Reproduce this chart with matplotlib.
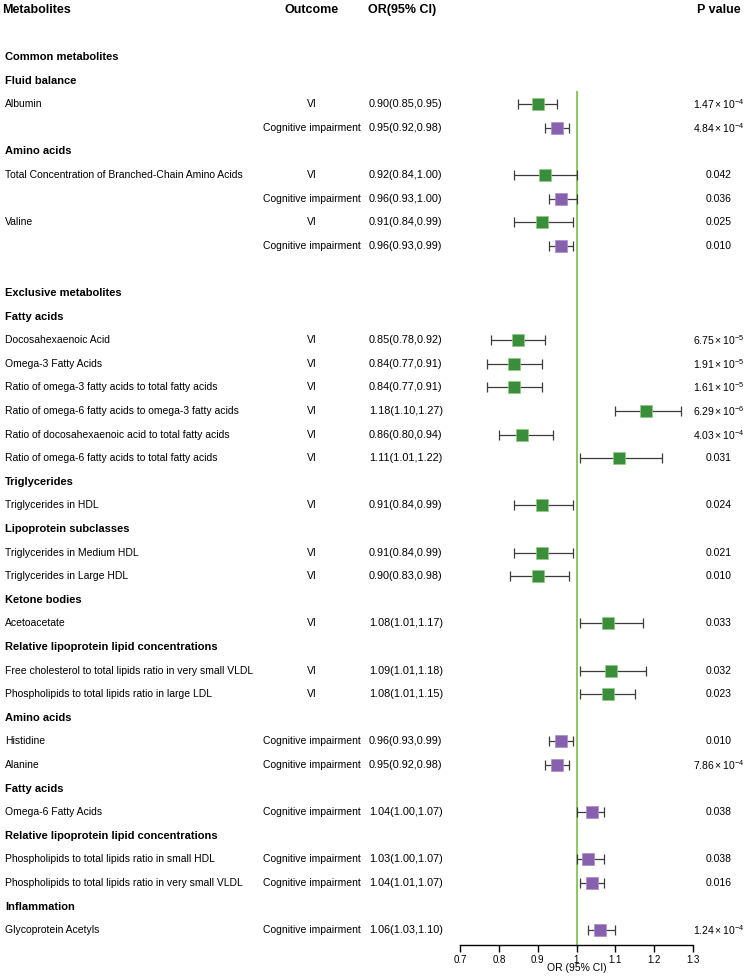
import matplotlib.pyplot as plt
import matplotlib.transforms as mtransforms

plt.rcParams['font.family'] = ['Liberation Sans', 'DejaVu Sans']
plt.rcParams['mathtext.fontset'] = 'custom'
plt.rcParams['mathtext.rm'] = 'Liberation Sans'
plt.rcParams['mathtext.it'] = 'Liberation Sans'

# row labels, '' = empty row
labels = ['Common metabolites', 'Fluid balance', 'Albumin', '', 'Amino acids',
          'Total Concentration of Branched-Chain Amino Acids', '', 'Valine', '', '',
          'Exclusive metabolites', 'Fatty acids', 'Docosahexaenoic Acid', 'Omega-3 Fatty Acids',
          'Ratio of omega-3 fatty acids to total fatty acids',
          'Ratio of omega-6 fatty acids to omega-3 fatty acids',
          'Ratio of docosahexaenoic acid to total fatty acids',
          'Ratio of omega-6 fatty acids to total fatty acids',
          'Triglycerides', 'Triglycerides in HDL', 'Lipoprotein subclasses',
          'Triglycerides in Medium HDL', 'Triglycerides in Large HDL', 'Ketone bodies',
          'Acetoacetate', 'Relative lipoprotein lipid concentrations',
          'Free cholesterol to total lipids ratio in very small VLDL',
          'Phospholipids to total lipids ratio in large LDL', 'Amino acids', 'Histidine', 'Alanine',
          'Fatty acids', 'Omega-6 Fatty Acids', 'Relative lipoprotein lipid concentrations',
          'Phospholipids to total lipids ratio in small HDL',
          'Phospholipids to total lipids ratio in very small VLDL', 'Inflammation',
          'Glycoprotein Acetyls']
header_rows = [0, 1, 4, 10, 11, 18, 20, 23, 25, 28, 31, 33, 36]

data_rows = [2, 3, 5, 6, 7, 8, 12, 13, 14, 15, 16, 17, 19, 21, 22, 24, 26, 27, 29, 30, 32, 34, 35, 37]
outcome = ['VI', 'Cognitive impairment', 'VI', 'Cognitive impairment', 'VI', 'Cognitive impairment',
           'VI', 'VI', 'VI', 'VI', 'VI', 'VI', 'VI', 'VI', 'VI', 'VI', 'VI', 'VI',
           'Cognitive impairment', 'Cognitive impairment', 'Cognitive impairment',
           'Cognitive impairment', 'Cognitive impairment', 'Cognitive impairment']
odds = [0.90, 0.95, 0.92, 0.96, 0.91, 0.96, 0.85, 0.84, 0.84, 1.18, 0.86, 1.11, 0.91, 0.91, 0.90,
        1.08, 1.09, 1.08, 0.96, 0.95, 1.04, 1.03, 1.04, 1.06]
lower = [0.85, 0.92, 0.84, 0.93, 0.84, 0.93, 0.78, 0.77, 0.77, 1.10, 0.80, 1.01, 0.84, 0.84, 0.83,
         1.01, 1.01, 1.01, 0.93, 0.92, 1.00, 1.00, 1.01, 1.03]
upper = [0.95, 0.98, 1.00, 1.00, 0.99, 0.99, 0.92, 0.91, 0.91, 1.27, 0.94, 1.22, 0.99, 0.99, 0.98,
         1.17, 1.18, 1.15, 0.99, 0.98, 1.07, 1.07, 1.07, 1.10]
pvals = [r'$1.47\times10^{-4}$', r'$4.84\times10^{-4}$', '0.042', '0.036', '0.025', '0.010',
         r'$6.75\times10^{-5}$', r'$1.91\times10^{-5}$', r'$1.61\times10^{-5}$',
         r'$6.29\times10^{-6}$', r'$4.03\times10^{-4}$', '0.031', '0.024', '0.021', '0.010',
         '0.033', '0.032', '0.023', '0.010', r'$7.86\times10^{-4}$', '0.038', '0.038', '0.016',
         r'$1.24\times10^{-4}$']
ticks = [0.7, 0.8, 0.9, 1, 1.1, 1.2, 1.3]
tick_labels = ['0.7', '0.8', '0.9', '1', '1.1', '1.2', '1.3']

green = '#3a8d3a'
purple = '#8761ad'

W, H = 753, 976
fig = plt.figure(figsize=(W / 100, H / 100), dpi=100)
ax = fig.add_axes([460 / W, 31 / H, 233 / W, 945 / H])
ax.set_xlim(0.7, 1.3)
ax.set_ylim(37.63, -2.42)
for s in ['top', 'right', 'left']:
    ax.spines[s].set_visible(False)
ax.spines['bottom'].set_linewidth(1.0)
ax.set_yticks([])
ax.set_xticks(ticks)
ax.set_xticklabels(tick_labels, fontsize=7)
ax.tick_params(axis='x', length=5, width=1, pad=2)
ax.set_xlabel('OR (95% CI)', fontsize=7.5, labelpad=-1)

ax.vlines(1, 1.45, 37.63, color='#77c043', lw=1.2, zorder=1)

for i, r in enumerate(data_rows):
    col = green if outcome[i] == 'VI' else purple
    ax.errorbar(odds[i], r, xerr=[[odds[i] - lower[i]], [upper[i] - odds[i]]], fmt='none',
                ecolor='#3c3c3c', elinewidth=0.9, capsize=3.5, capthick=0.9, zorder=2)
    ax.plot(odds[i], r, marker='s', ms=8, color=col, mec='#8fd07a' if col == green else '#a98ccc',
            mew=0.5, zorder=3)

tr = mtransforms.blended_transform_factory(fig.transFigure, ax.transData)
for r, lab in enumerate(labels):
    if not lab:
        continue
    bold = r in header_rows
    ax.text(5 / W, r, lab, transform=tr, fontsize=8 if bold else 7.5,
            fontweight='bold' if bold else 'normal', va='center', ha='left')

for i, r in enumerate(data_rows):
    ax.text(312 / W, r, outcome[i], transform=tr, fontsize=7.5, va='center', ha='center')
    ax.text(369 / W, r, '%.2f(%.2f,%.2f)' % (odds[i], lower[i], upper[i]), transform=tr,
            fontsize=7.8, va='center', ha='left')
    ax.text(719 / W, r, pvals[i], transform=tr, fontsize=7.5, va='center', ha='center')

hdr = dict(transform=tr, fontsize=9, fontweight='bold', va='center')
ax.text(2 / W, -2, 'Metabolites', ha='left', **hdr)
ax.text(312 / W, -2, 'Outcome', ha='center', **hdr)
ax.text(368 / W, -2, 'OR(95% CI)', ha='left', **hdr)
ax.text(719 / W, -2, 'P value', ha='center', **hdr)

fig.savefig('out.png', dpi=100)
